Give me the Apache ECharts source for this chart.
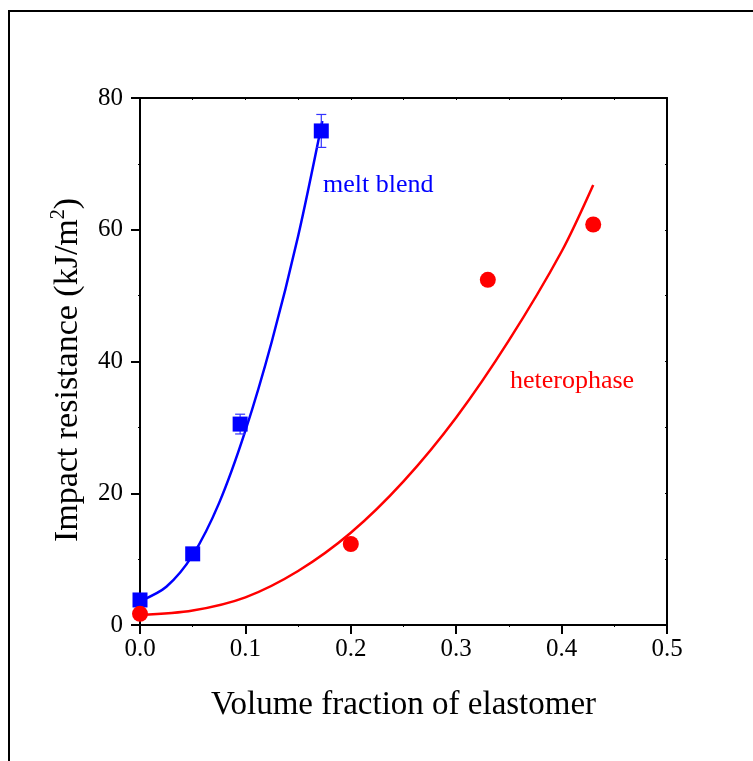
<!DOCTYPE html>
<html><head><meta charset="utf-8">
<script src="https://cdn.jsdelivr.net/npm/echarts@6/dist/echarts.min.js"></script>
<style>html,body{margin:0;padding:0;background:#fff}#c{width:753px;height:761px}</style>
</head><body><div id="c"></div>
<script>
// measured points
const meltX = [0, 0.05, 0.095, 0.172];
const meltY = [3.8, 10.8, 30.5, 75.0];
const meltErr = [0, 0, 1.5, 2.5];
const heteroX = [0, 0.2, 0.33, 0.43];
const heteroY = [1.7, 12.3, 52.4, 60.8];
const heteroErr = [0, 0, 0.8, 0.8];
// fitted curves
const meltFitX = [0, 0.025, 0.05, 0.075, 0.1, 0.125, 0.15, 0.173];
const meltFitY = [3.6, 5.8, 10.6, 18.5, 29.5, 43.0, 59.0, 76.5];
const heteroFitX = [0, 0.05, 0.1, 0.15, 0.2, 0.25, 0.3, 0.35, 0.4, 0.43];
const heteroFitY = [1.5, 2.2, 4.2, 8.2, 14.0, 21.8, 31.5, 43.2, 56.7, 66.8];
const xTicks = [0, 0.1, 0.2, 0.3, 0.4, 0.5];
const yTicks = [0, 20, 40, 60, 80];

const F = '"Liberation Serif","Times New Roman",serif';
const zip = (a, b) => a.map((v, i) => [v, b[i]]);
const errData = (xs, ys, es) => xs.map((v, i) => [v, ys[i] - es[i], ys[i] + es[i]]).filter((d, i) => es[i] > 0);

function errRender(color) {
  return function (params, api) {
    const lo = api.coord([api.value(0), api.value(1)]);
    const hi = api.coord([api.value(0), api.value(2)]);
    const w = 5;
    const st = {stroke: color, lineWidth: 1.2};
    return {type: 'group', children: [
      {type: 'line', shape: {x1: lo[0], y1: lo[1], x2: hi[0], y2: hi[1]}, style: st},
      {type: 'line', shape: {x1: lo[0] - w, y1: lo[1], x2: lo[0] + w, y2: lo[1]}, style: st},
      {type: 'line', shape: {x1: hi[0] - w, y1: hi[1], x2: hi[0] + w, y2: hi[1]}, style: st}
    ]};
  };
}

const chart = echarts.init(document.getElementById('c'));
const axisLineStyle = {color: '#000', width: 2};
chart.setOption({
  animation: false,
  backgroundColor: '#fff',
  grid: {left: 140, right: 86, top: 98, bottom: 136, containLabel: false},
  xAxis: [{
    type: 'value', min: 0, max: 0.5, interval: 0.1, position: 'bottom',
    axisLine: {show: true, onZero: false, lineStyle: axisLineStyle},
    axisTick: {show: true, length: 9, lineStyle: {color: '#000', width: 2}},
    minorTick: {show: true, splitNumber: 2, length: 2, lineStyle: {color: '#000', width: 1}},
    splitLine: {show: false},
    axisLabel: {margin: 12, color: '#000', fontFamily: F, fontSize: 25,
      formatter: v => xTicks.indexOf(Math.round(v * 10) / 10) >= 0 ? v.toFixed(1) : ''},
    name: 'Volume fraction of elastomer', nameLocation: 'middle', nameGap: 64,
    nameTextStyle: {color: '#000', fontFamily: F, fontSize: 33}
  }, {
    type: 'value', min: 0, max: 0.5, interval: 0.05, position: 'top',
    axisLine: {show: true, onZero: false, lineStyle: axisLineStyle},
    axisTick: {show: true, inside: true, length: 2, lineStyle: {color: '#000', width: 1}},
    axisLabel: {show: false}, splitLine: {show: false}
  }],
  yAxis: [{
    type: 'value', min: 0, max: 80, interval: 20, position: 'left',
    axisLine: {show: true, onZero: false, lineStyle: axisLineStyle},
    axisTick: {show: true, length: 9, lineStyle: {color: '#000', width: 2}},
    minorTick: {show: true, splitNumber: 2, length: 2, lineStyle: {color: '#000', width: 1}},
    splitLine: {show: false},
    axisLabel: {margin: 17, color: '#000', fontFamily: F, fontSize: 25,
      formatter: v => yTicks.indexOf(v) >= 0 ? String(v) : ''}
  }, {
    type: 'value', min: 0, max: 80, interval: 10, position: 'right',
    axisLine: {show: true, onZero: false, lineStyle: axisLineStyle},
    axisTick: {show: true, inside: true, length: 2, lineStyle: {color: '#000', width: 1}},
    axisLabel: {show: false}, splitLine: {show: false}
  }],
  series: [
    {type: 'line', data: zip(meltFitX, meltFitY), smooth: 0.3, showSymbol: false, symbol: 'none',
     lineStyle: {color: '#0000ff', width: 2.5}, z: 2},
    {type: 'line', data: zip(heteroFitX, heteroFitY), smooth: 0.3, showSymbol: false, symbol: 'none',
     lineStyle: {color: '#ff0000', width: 2.5}, z: 2},
    {type: 'custom', data: errData(meltX, meltY, meltErr), renderItem: errRender('#3333ff'), z: 3},
    {type: 'custom', data: errData(heteroX, heteroY, heteroErr), renderItem: errRender('#ff3333'), z: 3},
    {type: 'scatter', data: zip(meltX, meltY), symbol: 'rect', symbolSize: 15,
     itemStyle: {color: '#0000ff', opacity: 1}, z: 4},
    {type: 'scatter', data: zip(heteroX, heteroY), symbol: 'circle', symbolSize: 16,
     itemStyle: {color: '#ff0000', opacity: 1}, z: 4}
  ],
  graphic: [
    {type: 'rect', shape: {x: 9, y: 11, width: 900, height: 900}, style: {fill: 'none', stroke: '#000', lineWidth: 2}, z: 100},
    {type: 'text', left: 323, top: 172, style: {text: 'melt blend', fill: '#0000ff', font: '26px ' + F}, z: 100},
    {type: 'text', left: 510, top: 368, style: {text: 'heterophase', fill: '#ff0000', font: '26px ' + F}, z: 100},
    {type: 'text', x: 68, y: 370, rotation: Math.PI / 2, z: 100,
     style: {text: '{a|Impact resistance (kJ/m}{s|2}{a|)}', align: 'center', verticalAlign: 'middle',
       rich: {a: {fontFamily: F, fontSize: 34, fill: '#000', lineHeight: 38},
              s: {fontFamily: F, fontSize: 20, fill: '#000', verticalAlign: 'top', lineHeight: 38}}}}
  ]
});
</script></body></html>
